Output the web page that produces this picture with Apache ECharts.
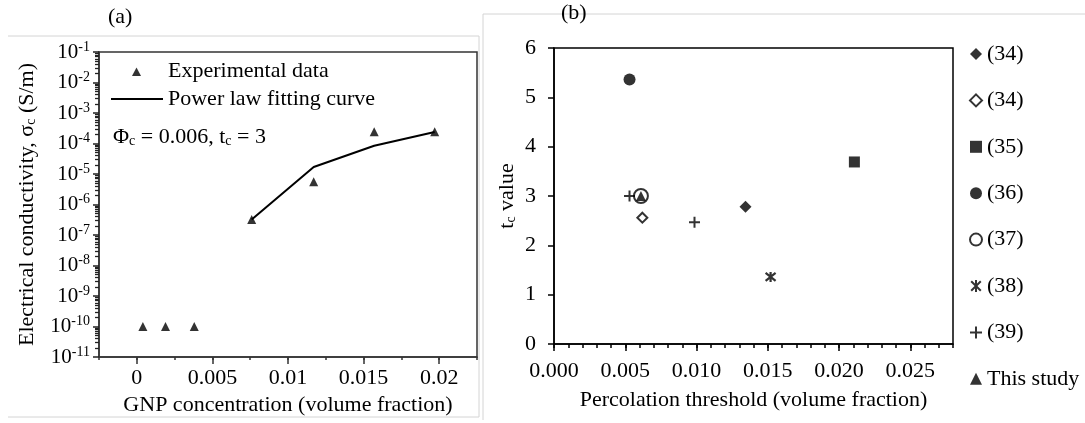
<!DOCTYPE html>
<html><head><meta charset="utf-8">
<script src="https://cdn.jsdelivr.net/npm/echarts@6.0.0/dist/echarts.min.js"></script>
<style>html,body{margin:0;padding:0;background:#fff}#c{width:1085px;height:423px}</style>
</head><body><div id="c"></div>
<script>
const FONT = '"Liberation Serif", "Times New Roman", serif';

// ---------- Panel (a) data ----------
const expX = [0.0004, 0.0019, 0.0038, 0.0076, 0.0117, 0.0157, 0.0197];
const expY = [1e-10, 1e-10, 1e-10, 3.2e-7, 5.6e-6, 2.45e-4, 2.45e-4];
const fitX = [0.0076, 0.0117, 0.0157, 0.0197];
const fitY = [3.2e-7, 1.7e-5, 8.4e-5, 2.4e-4];
const xTicksA = [0, 0.005, 0.01, 0.015, 0.02];
const xTickLabelsA = ['0', '0.005', '0.01', '0.015', '0.02'];
const yTicksA = [1e-11, 1e-10, 1e-9, 1e-8, 1e-7, 1e-6, 1e-5, 1e-4, 1e-3, 1e-2, 1e-1];
const yExpLabelsA = ['-11', '-10', '-9', '-8', '-7', '-6', '-5', '-4', '-3', '-2', '-1'];

// ---------- Panel (b) data ----------
const legendB = ['(34)', '(34) ', '(35)', '(36)', '(37)', '(38)', '(39)', 'This study'];
const ref34filled = [[0.01344, 2.78]];
const ref34open = [[0.0062, 2.56]];
const ref35 = [[0.02108, 3.69]];
const ref36 = [[0.0053, 5.36]];
const ref37 = [[0.0061, 3.0]];
const ref38 = [[0.0152, 1.36]];
const ref39 = [[0.0053, 3.0], [0.00986, 2.47]];
const thisStudy = [[0.0061, 3.0]];
const xTicksB = [0, 0.005, 0.01, 0.015, 0.02, 0.025];

const zip = (a, b) => a.map((v, i) => [v, b[i]]);
const txt = {fontFamily: FONT, fontSize: 22, color: '#000'};
// log-axis minor tick positions (2..9 within each decade)
const yMinorA = [];
yTicksA.slice(0, -1).forEach(d => { for (let k = 2; k <= 9; k++) yMinorA.push(k * d); });

const chart = echarts.init(document.getElementById('c'), null, {renderer: 'canvas'});

const gridA = {left: 99, top: 52, width: 378, height: 305};
const gridB = {left: 554, top: 48, width: 399, height: 296};

const plusPath = 'path://M0,5L10,5M5,0L5,10';
const starPath = 'path://M1,1L9,9M9,1L1,9M5,0L5,10';
const expIcon = 'path://M0,0M52,10M21,10L25.5,1.5L30,10Z';
const fitIcon = 'path://M0,0M52,10M0,4L52,4L52,6L0,6Z';

const option = {
  animation: false,
  backgroundColor: '#fff',
  grid: [
    Object.assign({show: true, borderColor: '#333', borderWidth: 1.5, backgroundColor: 'transparent'}, gridA),
    Object.assign({show: true, borderColor: '#000', borderWidth: 1.5, backgroundColor: 'transparent'}, gridB),
    Object.assign({show: false}, gridA),
    Object.assign({show: false}, gridB)
  ],
  xAxis: [
    { gridIndex: 0, type: 'value', min: -0.0025, max: 0.0225, interval: 0.0025,
      axisLine: {show: true, onZero: false, lineStyle: {color: '#333', width: 1.5}},
      axisTick: {show: true, length: 3, lineStyle: {color: '#333', width: 1.5}},
      axisLabel: Object.assign({margin: 10, customValues: xTicksA,
        formatter: v => { const i = xTicksA.findIndex(t => Math.abs(t - v) < 1e-9); return i >= 0 ? xTickLabelsA[i] : ''; }}, txt),
      splitLine: {show: false},
      name: 'GNP concentration (volume fraction)', nameLocation: 'middle', nameGap: 27,
      nameTextStyle: txt },
    { gridIndex: 1, type: 'value', min: 0, max: 0.028, interval: 0.001,
      axisLine: {show: true, onZero: false, lineStyle: {color: '#000', width: 1.5}},
      axisTick: {show: true, length: 4, lineStyle: {color: '#000', width: 1.5}},
      axisLabel: Object.assign({margin: 16, customValues: xTicksB,
        formatter: v => (xTicksB.some(t => Math.abs(t - v) < 1e-9) ? v.toFixed(3) : '')}, txt),
      splitLine: {show: false},
      name: 'Percolation threshold (volume fraction)', nameLocation: 'middle', nameGap: 45,
      nameTextStyle: txt },
    { gridIndex: 2, type: 'value', min: -0.0025, max: 0.0225, interval: 0.0025,
      axisLine: {show: false, onZero: false}, axisLabel: {show: false}, splitLine: {show: false},
      axisTick: {show: true, length: 7, customValues: xTicksA, lineStyle: {color: '#333', width: 1.5}} },
    { gridIndex: 3, type: 'value', min: 0, max: 0.028, interval: 0.001,
      axisLine: {show: false, onZero: false}, axisLabel: {show: false}, splitLine: {show: false},
      axisTick: {show: true, length: 7, customValues: xTicksB, lineStyle: {color: '#000', width: 1.5}} }
  ],
  yAxis: [
    { gridIndex: 0, type: 'log', logBase: 10, min: 1e-11, max: 1e-1,
      axisLine: {show: true, onZero: false, lineStyle: {color: '#333', width: 1.5}},
      axisTick: {show: true, length: 4, customValues: yMinorA, lineStyle: {color: '#222', width: 1.3}},
      axisLabel: {margin: 9, fontFamily: FONT, color: '#000', customValues: yTicksA,
        formatter: v => { const i = yTicksA.findIndex(t => Math.abs(Math.log10(t) - Math.log10(v)) < 1e-6);
                          return i >= 0 ? '{b|10}{s|' + yExpLabelsA[i] + '}' : ''; },
        rich: {b: {fontFamily: FONT, fontSize: 21, color: '#000', lineHeight: 24},
               s: {fontFamily: FONT, fontSize: 14, color: '#000', verticalAlign: 'top', lineHeight: 24, padding: [0, 0, 8, 0]}}},
      splitLine: {show: false},
      name: 'Electrical conductivity, σ{s|c} (S/m)', nameLocation: 'middle', nameGap: 61,
      nameTextStyle: {fontFamily: FONT, fontSize: 22, color: '#000',
        rich: {s: {fontFamily: FONT, fontSize: 14, color: '#000', verticalAlign: 'bottom', padding: [8, 0, 0, 0]}}} },
    { gridIndex: 1, type: 'value', min: 0, max: 6, interval: 1,
      axisLine: {show: true, onZero: false, lineStyle: {color: '#000', width: 1.5}},
      axisTick: {show: true, length: 6, lineStyle: {color: '#000', width: 1.5}},
      axisLabel: Object.assign({margin: 18}, txt),
      splitLine: {show: false},
      name: 't{s|c} value', nameLocation: 'middle', nameGap: 36,
      nameTextStyle: {fontFamily: FONT, fontSize: 22, color: '#000',
        rich: {s: {fontFamily: FONT, fontSize: 14, color: '#000', verticalAlign: 'bottom', padding: [8, 0, 0, 0]}}} },
    { gridIndex: 2, type: 'log', logBase: 10, min: 1e-11, max: 1e-1,
      axisLine: {show: false, onZero: false}, axisLabel: {show: false}, splitLine: {show: false},
      axisTick: {show: true, length: 6, customValues: yTicksA, lineStyle: {color: '#222', width: 1.5}} },
    { gridIndex: 3, type: 'value', min: 0, max: 1, show: false, axisLine: {onZero: false} }
  ],
  legend: [
    { left: 111, top: 60, padding: 0, orient: 'vertical', itemGap: 6, itemWidth: 52, itemHeight: 10,
      textStyle: Object.assign({lineHeight: 22}, txt),
      data: [{name: 'Experimental data', icon: expIcon}, {name: 'Power law fitting curve', icon: fitIcon}],
      selectedMode: false },
    { left: 969, top: 43, padding: 0, orient: 'vertical', itemGap: 24.4, itemWidth: 12, itemHeight: 12,
      textStyle: Object.assign({lineHeight: 22}, txt),
      data: legendB, selectedMode: false }
  ],
  graphic: [
    {type: 'polyline', shape: {points: [[8, 36], [479, 36], [479, 417], [8, 417]]}, style: {stroke: '#d4d4d4', lineWidth: 1, fill: null}, silent: true},
    {type: 'polyline', shape: {points: [[483, 420], [483, 14], [1085, 14]]}, style: {stroke: '#d4d4d4', lineWidth: 1, fill: null}, silent: true},
    {type: 'text', left: 108, top: 6, style: {text: '(a)', font: '22px ' + FONT, fill: '#000'}},
    {type: 'text', left: 561, top: 2, style: {text: '(b)', font: '22px ' + FONT, fill: '#000'}},
    {type: 'text', left: 113, top: 126, style: {
      text: 'Φ{s|c} = 0.006, t{s|c} = 3', font: '22px ' + FONT, fill: '#000',
      rich: {s: {fontFamily: FONT, fontSize: 14, fill: '#000', verticalAlign: 'bottom', padding: [8, 0, 0, 0]}}}}
  ],
  series: [
    { name: 'Power law fitting curve', type: 'line', xAxisIndex: 0, yAxisIndex: 0,
      data: zip(fitX, fitY), showSymbol: false, symbol: 'none',
      lineStyle: {color: '#000', width: 2}, itemStyle: {color: '#000'}, z: 3 },
    { name: 'Experimental data', type: 'scatter', xAxisIndex: 0, yAxisIndex: 0,
      data: zip(expX, expY), symbol: 'triangle', symbolSize: 9, itemStyle: {color: '#000'}, z: 4 },

    { name: legendB[0], type: 'scatter', xAxisIndex: 1, yAxisIndex: 1, data: ref34filled,
      symbol: 'diamond', symbolSize: 12, itemStyle: {color: '#000'} },
    { name: legendB[1], type: 'scatter', xAxisIndex: 1, yAxisIndex: 1, data: ref34open,
      symbol: 'emptyDiamond', symbolSize: 10, itemStyle: {color: '#000', borderColor: '#000', borderWidth: 2} },
    { name: legendB[2], type: 'scatter', xAxisIndex: 1, yAxisIndex: 1, data: ref35,
      symbol: 'rect', symbolSize: 11, itemStyle: {color: '#000'} },
    { name: legendB[3], type: 'scatter', xAxisIndex: 1, yAxisIndex: 1, data: ref36,
      symbol: 'circle', symbolSize: 12, itemStyle: {color: '#000'} },
    { name: legendB[4], type: 'scatter', xAxisIndex: 1, yAxisIndex: 1, data: ref37,
      symbol: 'emptyCircle', symbolSize: 14, itemStyle: {color: '#000', borderColor: '#000', borderWidth: 2} },
    { name: legendB[5], type: 'scatter', xAxisIndex: 1, yAxisIndex: 1, data: ref38,
      symbol: starPath, symbolSize: 10, itemStyle: {color: '#000', borderColor: '#000', borderWidth: 2.2} },
    { name: legendB[6], type: 'scatter', xAxisIndex: 1, yAxisIndex: 1, data: ref39,
      symbol: plusPath, symbolSize: 11, itemStyle: {color: '#000', borderColor: '#000', borderWidth: 2} },
    { name: legendB[7], type: 'scatter', xAxisIndex: 1, yAxisIndex: 1, data: thisStudy,
      symbol: 'triangle', symbolSize: 10, itemStyle: {color: '#000'}, z: 5 }
  ]
};
chart.setOption(option);
</script>
</body></html>
